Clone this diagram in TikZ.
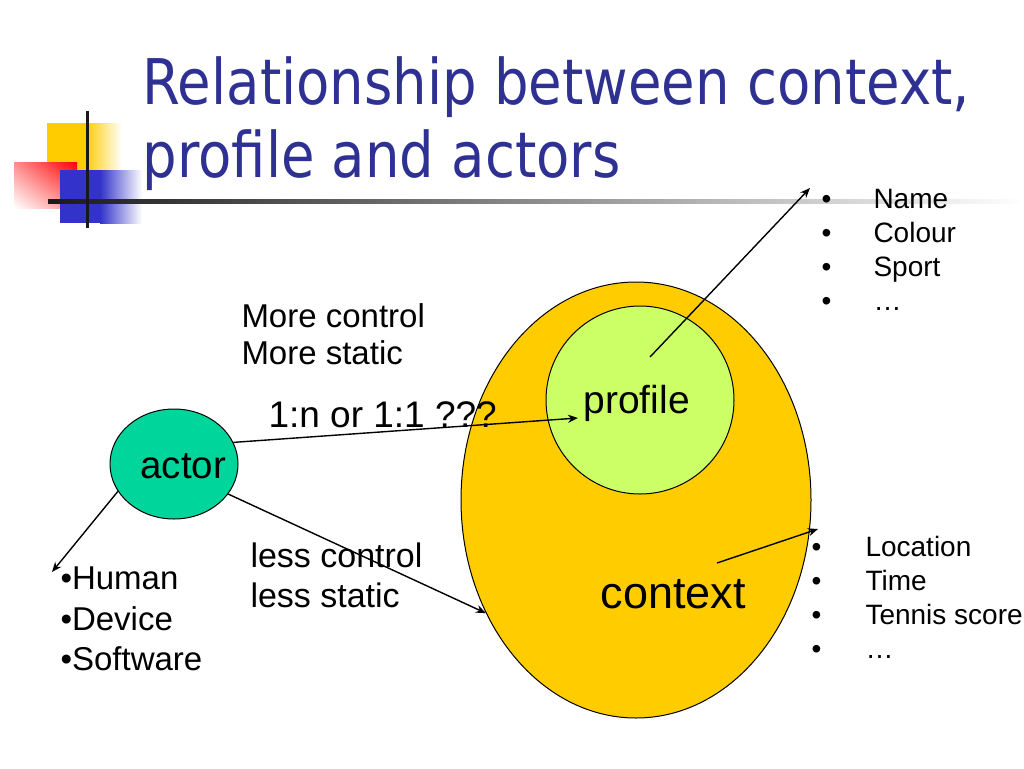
\documentclass[tikz,border=0pt]{standalone}
\usepackage{fontspec}
\setmainfont{Liberation Sans}
\newfontfamily\titlefont[FakeStretch=0.865]{DejaVu Sans}
\usetikzlibrary{shapes.geometric,arrows.meta,shadings}
\definecolor{titleblue}{RGB}{46,49,146}
\definecolor{decoyellow}{RGB}{255,204,0}
\definecolor{decoblue}{RGB}{51,51,204}
\definecolor{contextfill}{RGB}{255,204,0}
\definecolor{profilefill}{RGB}{204,255,102}
\definecolor{actorfill}{RGB}{0,214,155}
\tikzset{
  txt/.style={anchor=base west, inner sep=0pt},
  conn/.style={-{Stealth[length=10pt,width=8pt]}, line width=1.4pt},
}
\newcommand{\bodyfont}{\fontsize{33}{39}\selectfont}
\newcommand{\listfont}{\fontsize{28}{33}\selectfont}
\begin{document}
\begin{tikzpicture} [x=1pt, y=-1pt, line width=1pt]
\useasboundingbox (0,0) rectangle (1024,768);
% corner decoration
\fill[decoyellow] (47,123) rectangle (85,170);
\shade[left color=decoyellow, right color=white] (85,123) rectangle (122,170);
\shade[upper right=red, lower left=white, upper left=red!45, lower right=red!45] (14,162) rectangle (77,208);
\fill[decoblue] (60,170) rectangle (100,223);
\shade[left color=decoblue, right color=white] (100,170) rectangle (142,223);
\shade[left color=black!90, middle color=black!35, right color=white] (48,199) rectangle (1024,203);
\fill[black!90] (85.5,111) rectangle (88.5,228);
% title
\node[txt, text=titleblue, font=\titlefont\fontsize{63}{73}\selectfont] (t1) at (142,104) {Relationship between context,};
\node[txt, text=titleblue, font=\titlefont\fontsize{63}{73}\selectfont] (t2) at (142,177) {profile and actors};
% shapes
\node[ellipse, draw, fill=contextfill, minimum width=350pt, minimum height=436pt, inner sep=0pt] (context) at (636,500) {};
\node[circle, draw, fill=profilefill, minimum size=188pt, inner sep=0pt] (profile) at (640,400) {};
\node[ellipse, draw, fill=actorfill, minimum width=128pt, minimum height=110pt, inner sep=0pt] (actor) at (174,464) {};
\node[txt, font=\fontsize{38.5}{44}\selectfont] (actorlbl) at (140,478) {actor};
\node[txt, font=\fontsize{39}{45}\selectfont] (profilelbl) at (583,413) {profile};
\node[txt, font=\fontsize{45}{52}\selectfont] (contextlbl) at (600,608) {context};
% texts
\node[txt, font=\bodyfont] (mc) at (241,327) {More control};
\node[txt, font=\bodyfont] (ms) at (241,364) {More static};
\node[txt, font=\fontsize{37}{44}\selectfont] (rel) at (268,427) {1:n or 1:1 ???};
\node[txt, font=\fontsize{34}{40}\selectfont] (lc) at (250,567) {less control};
\node[txt, font=\fontsize{34}{40}\selectfont] (ls) at (250,607) {less static};
\node[txt, font=\bodyfont] (hu) at (60,589) {•Human};
\node[txt, font=\bodyfont] (de) at (60,630) {•Device};
\node[txt, font=\bodyfont] (so) at (60,670) {•Software};
% lists
\foreach \t [count=\i] in {Name,Colour,Sport,\dots}{
  \node[txt, font=\listfont] (pb\i) at (821,174+34*\i) {•};
  \node[txt, font=\listfont] (pi\i) at (873,174+34*\i) {\t};
}
\foreach \t [count=\i] in {Location,Time,Tennis score,\dots}{
  \node[txt, font=\listfont] (cb\i) at (811,522+34*\i) {•};
  \node[txt, font=\listfont] (ci\i) at (865,522+34*\i) {\t};
}
% connectors
\coordinate (pin) at (578,418);
\coordinate (hum) at (52,572);
\coordinate (pout) at (650,357);
\coordinate (ptip) at (810,188);
\coordinate (cout) at (717,563);
\coordinate (ctip) at (818,529);
\draw[conn] (actor.20) -- (pin);
\draw[conn] (actor.-29) -- (context.217);
\draw[conn] (actor.206) -- (hum);
\draw[conn] (pout) -- (ptip);
\draw[conn] (cout) -- (ctip);
\end{tikzpicture}
\end{document}
